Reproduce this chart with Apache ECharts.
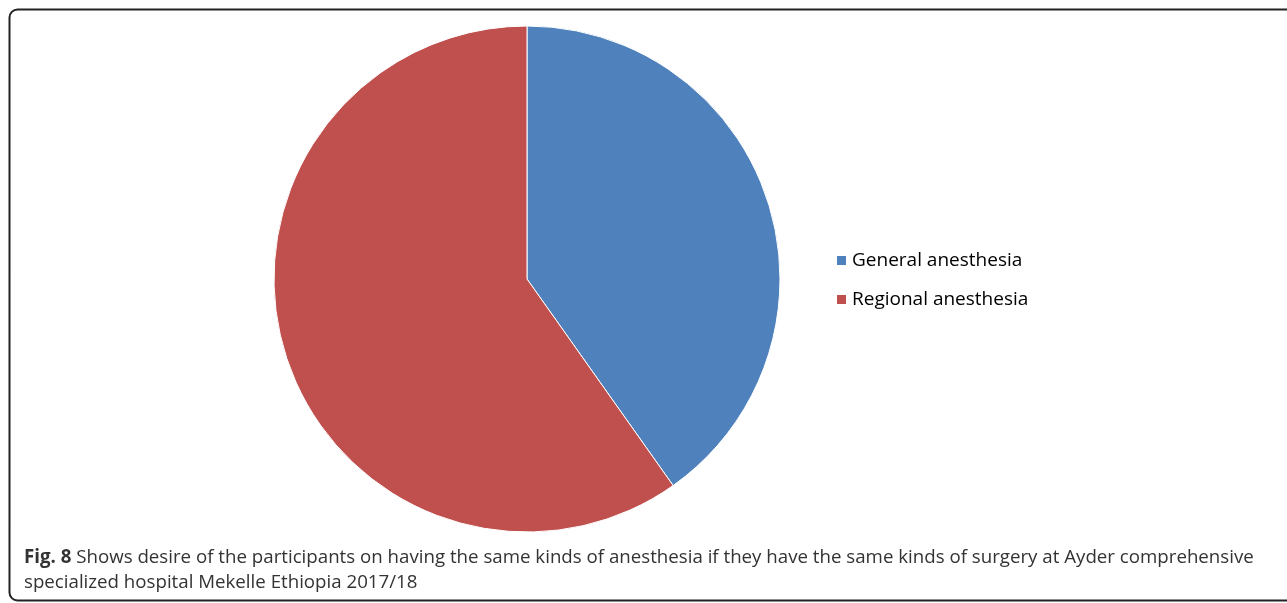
<!DOCTYPE html>
<html lang="en">
<head>
    <meta charset="UTF-8">
    <title>Fig. 8</title>
    <script src="https://cdn.jsdelivr.net/npm/echarts@6/dist/echarts.min.js"></script>
    <style>
        html,body{
            margin: 0;
            padding: 0;
            background: #fff;
        }
        #chart{
            width: 1287px;
            height: 603px;
        }
    </style>
</head>
<body>
    <div id="chart"></div>
<script>
    var categories=["General anesthesia","Regional anesthesia"];
    var shares=[40.2,59.8];
    var colors=["#4F81BD","#C0504D"];

    var pieData=[];
    for(var i in categories){
        pieData.push({name:categories[i],value:shares[i],itemStyle:{color:colors[i]}});
    }

    var chart=echarts.init(document.getElementById("chart"));
    var option={
        animation:false,
        legend:{
            orient:'vertical',
            left:830,
            top:246,
            itemWidth:11,
            itemHeight:11,
            itemGap:20,
            icon:'rect',
            textStyle:{
                color:'#000',
                fontSize:19,
                fontFamily:'Open Sans'
            },
            data:categories
        },
        graphic:[
            {
                type:'rect',
                shape:{x:9.5,y:9.5,width:1300,height:591,r:8},
                style:{fill:'none',stroke:'#222',lineWidth:2}
            },
            {
                type:'text',
                left:24,
                top:545,
                style:{
                    text:'{b|Fig. 8} Shows desire of the participants on having the same kinds of anesthesia if they have the same kinds of surgery at Ayder comprehensive\nspecialized hospital Mekelle Ethiopia 2017/18',
                    fontFamily:'Open Sans',
                    fontSize:18.7,
                    lineHeight:25,
                    fill:'#333',
                    rich:{
                        b:{fontWeight:'bold',fontFamily:'Open Sans',fontSize:18.7,fill:'#333'}
                    }
                }
            }
        ],
        series:[{
            type:'pie',
            center:[527,279],
            radius:253,
            startAngle:90,
            clockwise:true,
            label:{show:false},
            labelLine:{show:false},
            itemStyle:{borderColor:'#fff',borderWidth:1},
            emphasis:{disabled:true},
            data:pieData
        }]
    };
    chart.setOption(option);
</script>
</body>
</html>
